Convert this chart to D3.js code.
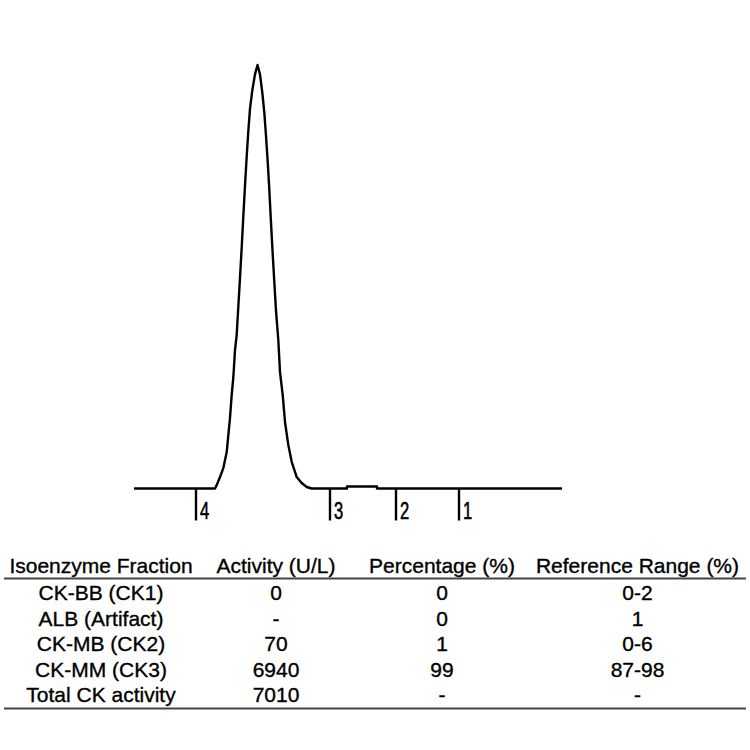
<!DOCTYPE html>
<html>
<head>
<meta charset="utf-8">
<script src="https://cdn.jsdelivr.net/npm/d3@7"></script>
<style>
	body { margin: 0; background: #fff; }
	svg { display: block; }
</style>
</head>
<body>
<svg id="bgsvg" width="750" height="750"></svg>
<script>
// densitometer scan: position along the strip (arbitrary units) and relative absorbance (%)
const scanPos = [0, 16.2, 16.54, 17.2, 17.86, 18.54, 19.2, 19.54, 19.86, 20.2, 20.54, 20.86, 21.2, 21.54,
	21.86, 22.2, 22.54, 22.86, 23.2, 23.66, 24.2, 24.7, 25.2, 25.66, 26.06, 26.4, 26.74, 27.06, 27.4,
	27.74, 28.06, 28.4, 28.86, 29.2, 29.74, 30.2, 30.86, 31.54, 32.54, 33.54, 34.54, 35.54,
	42.6, 42.6, 48.6, 48.6, 85.6]
const scanAbs = [0, 0, 0.8, 2.7, 4.8, 8.6, 16.7, 22.1, 26.1, 32.7, 36.3, 42.9, 49.8, 56.9,
	64.2, 71.5, 78.4, 84.3, 89.7, 94.0, 97.8, 100, 97.8, 93.5, 88.8, 83.3, 77.2, 70.6, 62.8,
	55.4, 48.8, 42.0, 35.1, 27.5, 22.1, 15.7, 10.3, 6.3, 2.7, 1.3, 0.35, 0,
	0, 0.47, 0.47, 0, 0]

// fraction boundary markers
const markerPos = [12.4, 39.2, 52.4, 65.0]
const markerLabels = ["4", "3", "2", "1"]

// results table
const headers = ["Isoenzyme Fraction", "Activity (U/L)", "Percentage (%)", "Reference Range (%)"]
const fractions = ["CK-BB (CK1)", "ALB (Artifact)", "CK-MB (CK2)", "CK-MM (CK3)", "Total CK activity"]
const activity = ["0", "-", "70", "6940", "7010"]
const percentage = ["0", "0", "1", "99", "-"]
const refRange = ["0-2", "1", "0-6", "87-98", "-"]

const svg = d3.select("#bgsvg")

const x = d3.scaleLinear().domain([0, 85.6]).range([134, 562])
const y = d3.scaleLinear().domain([0, 100]).range([488.5, 65])

const scan = scanPos.map((p, i) => ({pos: p, abs: scanAbs[i]}))

const line = d3.line()
	.x(d => x(d.pos))
	.y(d => y(d.abs))
	.curve(d3.curveLinear)

svg.append("path")
	.datum(scan)
	.attr("d", line)
	.attr("fill", "none")
	.attr("stroke", "#000")
	.attr("stroke-width", 2.4)
	.attr("stroke-linejoin", "round")

// markers below the baseline
const mk = svg.append("g").selectAll("g")
	.data(markerPos.map((p, i) => ({pos: p, label: markerLabels[i]})))
	.join("g")
	.attr("transform", d => `translate(${Math.round(x(d.pos))},0)`)

mk.append("line")
	.attr("x1", 0).attr("x2", 0)
	.attr("y1", y(0)).attr("y2", y(0) + 32)
	.attr("stroke", "#000")
	.attr("stroke-width", 2.4)

// narrow digits: no condensed face installed, so squeeze a regular one
mk.append("text")
	.attr("transform", "translate(4,519) scale(0.72,1)")
	.attr("font-family", "'Liberation Sans', Arial, sans-serif")
	.attr("font-size", 23)
	.attr("fill", "#000")
	.attr("stroke", "#000")
	.attr("stroke-width", 0.6)
	.text(d => d.label)

// table
const colCenters = [101, 276, 442, 637.5]
const rowY = d3.scaleLinear().domain([0, fractions.length - 1]).range([600, 702])

const tbl = svg.append("g")
	.attr("font-family", "'Liberation Sans', Arial, sans-serif")
	.attr("font-size", 21)
	.attr("fill", "#000")
	.attr("stroke", "#000")
	.attr("stroke-width", 0.35)
	.attr("text-anchor", "middle")

tbl.selectAll("text.hdr")
	.data(headers)
	.join("text")
	.attr("class", "hdr")
	.attr("x", (d, i) => colCenters[i])
	.attr("y", 573)
	.text(d => d)

const rows = fractions.map((f, i) => [f, activity[i], percentage[i], refRange[i]])

tbl.selectAll("g.row")
	.data(rows)
	.join("g")
	.attr("class", "row")
	.attr("transform", (d, i) => `translate(0,${rowY(i)})`)
	.selectAll("text")
	.data(d => d)
	.join("text")
	.attr("x", (d, i) => colCenters[i])
	.text(d => d)

svg.append("line")
	.attr("x1", 4).attr("x2", 746)
	.attr("y1", 578.5).attr("y2", 578.5)
	.attr("stroke", "#444").attr("stroke-width", 2)

svg.append("line")
	.attr("x1", 4).attr("x2", 746)
	.attr("y1", 708.5).attr("y2", 708.5)
	.attr("stroke", "#444").attr("stroke-width", 2)
</script>
</body>
</html>
